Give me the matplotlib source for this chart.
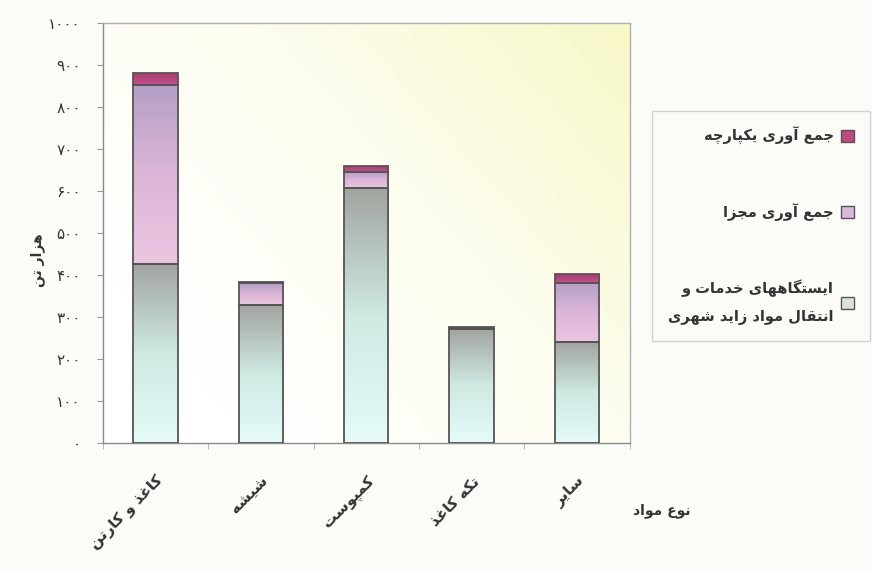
import numpy as np
import matplotlib
matplotlib.use("Agg")
import matplotlib.pyplot as plt
from matplotlib.patches import Rectangle
from matplotlib.colors import LinearSegmentedColormap

# data (thousand tonnes)
categories = ['کاغذ و کارتن', 'شیشه', 'کمپوست', 'تکه کاغذ', 'سایر']
stations = [427, 329, 607, 272, 240]
separate = [426, 52, 38, 0, 141]
integrated = [30, 3, 15, 4, 21]
series_names = ['جمع آوری یکپارچه', 'جمع آوری مجزا',
                'ایستگاههای خدمات و\nانتقال مواد زاید شهری']
y_ticks = list(range(0, 1001, 100))
y_label = 'هزار تن'
x_label = 'نوع مواد'

# --- tiny persian shaper (matplotlib 3.10 has no RTL shaping) ---
forms = {
    'ا': ('\uFE8D', '\uFE8E'), 'آ': ('\uFE81', '\uFE82'),
    'د': ('\uFEA9', '\uFEAA'), 'ذ': ('\uFEAB', '\uFEAC'),
    'ر': ('\uFEAD', '\uFEAE'), 'ز': ('\uFEAF', '\uFEB0'),
    'و': ('\uFEED', '\uFEEE'),
    'ب': ('\uFE8F', '\uFE90', '\uFE91', '\uFE92'),
    'پ': ('\uFB56', '\uFB57', '\uFB58', '\uFB59'),
    'ت': ('\uFE95', '\uFE96', '\uFE97', '\uFE98'),
    'ج': ('\uFE9D', '\uFE9E', '\uFE9F', '\uFEA0'),
    'چ': ('\uFB7A', '\uFB7B', '\uFB7C', '\uFB7D'),
    'خ': ('\uFEA5', '\uFEA6', '\uFEA7', '\uFEA8'),
    'س': ('\uFEB1', '\uFEB2', '\uFEB3', '\uFEB4'),
    'ش': ('\uFEB5', '\uFEB6', '\uFEB7', '\uFEB8'),
    'ع': ('\uFEC9', '\uFECA', '\uFECB', '\uFECC'),
    'غ': ('\uFECD', '\uFECE', '\uFECF', '\uFED0'),
    'ق': ('\uFED5', '\uFED6', '\uFED7', '\uFED8'),
    'ک': ('\uFB8E', '\uFB8F', '\uFB90', '\uFB91'),
    'گ': ('\uFB92', '\uFB93', '\uFB94', '\uFB95'),
    'ل': ('\uFEDD', '\uFEDE', '\uFEDF', '\uFEE0'),
    'م': ('\uFEE1', '\uFEE2', '\uFEE3', '\uFEE4'),
    'ن': ('\uFEE5', '\uFEE6', '\uFEE7', '\uFEE8'),
    'ه': ('\uFEE9', '\uFEEA', '\uFEEB', '\uFEEC'),
    'ی': ('\uFBFC', '\uFBFD', '\uFBFE', '\uFBFF'),
}


def fa(text):
    lines = []
    for line in text.split('\n'):
        out = []
        for i, ch in enumerate(line):
            if ch not in forms:
                out.append(ch)
                continue
            prev = line[i - 1] if i > 0 else ''
            nxt = line[i + 1] if i + 1 < len(line) else ''
            joins_prev = prev in forms and len(forms[prev]) == 4
            joins_next = len(forms[ch]) == 4 and nxt in forms
            f = forms[ch]
            if joins_prev and joins_next:
                out.append(f[3])
            elif joins_prev:
                out.append(f[1])
            elif joins_next:
                out.append(f[2])
            else:
                out.append(f[0])
        lines.append(''.join(out)[::-1])
    return '\n'.join(lines)


def fa_num(n):
    return ''.join(chr(0x06F0 + int(d)) for d in str(n))


plt.rcParams['font.family'] = ['DejaVu Sans']

fig = plt.figure(figsize=(8.72, 5.72), dpi=100, facecolor='#fbfbf7')
ax = fig.add_axes([0.118, 0.226, 0.604, 0.733])

x = np.arange(len(categories))

# plot area gradient: white lower-left -> pale yellow upper-right
gx, gy = np.meshgrid(np.linspace(0, 1, 200), np.linspace(0, 1, 200))
bg = LinearSegmentedColormap.from_list('bg', ['#ffffff', '#fdfdf0', '#f8f8c8'])
ax.imshow(np.clip((gx * 0.7 + gy * 0.5) - 0.2, 0, 1), cmap=bg, origin='lower',
          extent=(-0.5, len(categories) - 0.5, 0, 1000), aspect='auto', zorder=0)

seg_cmaps = [
    LinearSegmentedColormap.from_list('base', ['#e4fbf8', '#cfe9e3', '#a2a5a0']),
    LinearSegmentedColormap.from_list('sep', ['#ecc5e0', '#dcb6d8', '#b49fc6']),
    LinearSegmentedColormap.from_list('int', ['#c8508a', '#a83a6e']),
]
legend_colors = ['#c04a80', '#d9b8dc', '#d8e4d8']

width = 0.42
bottom = np.zeros(len(categories))
for vals, cmap in zip([stations, separate, integrated], seg_cmaps):
    bars = ax.bar(x, vals, width, bottom=bottom, facecolor='none',
                  edgecolor='#555555', linewidth=1.3, zorder=3)
    for rect, v, b in zip(bars, vals, bottom):
        if v <= 0:
            continue
        grad = np.linspace(0, 1, 100).reshape(-1, 1)
        im = ax.imshow(grad, cmap=cmap, origin='lower', aspect='auto',
                       extent=(rect.get_x(), rect.get_x() + width, b, b + v), zorder=2)
        im.set_clip_path(rect)
    bottom = bottom + np.array(vals)
ax.set_xlim(-0.5, len(categories) - 0.5)
ax.set_ylim(0, 1000)

for s in ax.spines.values():
    s.set_color('#b0b0b0')
    s.set_linewidth(1.0)
ax.spines['left'].set_color('#8a8a8a')
ax.spines['bottom'].set_color('#8a8a8a')

ax.set_yticks(y_ticks)
ax.set_yticklabels([fa_num(t) for t in y_ticks], fontsize=11, color='#333333')
ax.tick_params(axis='y', direction='out', length=4, color='#999999', pad=12)
ax.set_xticks(x)
ax.set_xticklabels([fa(c) for c in categories], rotation=45, ha='right', va='top',
                   rotation_mode='anchor', fontsize=11, fontweight='bold', color='#333333')
ax.tick_params(axis='x', length=0, pad=22)
ax.set_xticks(np.arange(-0.5, len(categories), 1), minor=True)
ax.tick_params(axis='x', which='minor', direction='out', length=4, color='#aaaaaa')

fig.text(0.043, 0.545, fa(y_label), rotation=90, ha='center', va='center',
         fontsize=10, fontweight='bold', color='#333333')
fig.text(0.792, 0.108, fa(x_label), ha='right', va='center',
         fontsize=10, fontweight='bold', color='#333333')

handles = [Rectangle((0, 0), 1, 1, facecolor=c, edgecolor='#555555', linewidth=1.0)
           for c in legend_colors]
leg = fig.legend(handles, [fa(n) for n in series_names], loc='upper right',
                 bbox_to_anchor=(0.998, 0.806), markerfirst=False, frameon=True,
                 fancybox=False, edgecolor='#c8c8c8', facecolor='#fbfbf7',
                 prop={'size': 10.5, 'weight': 'bold'}, labelspacing=4.0,
                 handlelength=0.9, handleheight=0.9, handletextpad=0.5,
                 borderpad=1.1, borderaxespad=0, alignment='right')
for t in leg.get_texts():
    t.set_ha('right')
    t.set_color('#333333')
    t.set_linespacing(2.0)

fig.savefig('out.png', dpi=100, facecolor=fig.get_facecolor())
